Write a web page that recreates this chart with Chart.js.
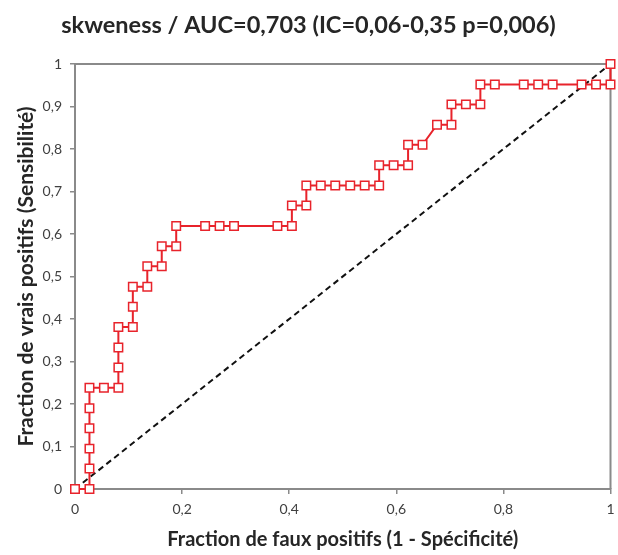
<!DOCTYPE html>
<html>
<head>
<meta charset="utf-8">
<script src="https://cdn.jsdelivr.net/npm/chart.js@4.4.1/dist/chart.umd.min.js"></script>
<style>
  html, body { margin: 0; padding: 0; background: #fff; }
  #wrap { width: 618px; height: 555px; position: relative; }
</style>
</head>
<body>
<div id="wrap"><canvas id="roc"></canvas></div>
<script>
"use strict";

/* ---- Data ---- */
const chartTitle = "skweness / AUC=0,703 (IC=0,06-0,35 p=0,006)";
const xTitle     = "Fraction de faux positifs (1 - Spécificité)";
const yTitle     = "Fraction de vrais positifs (Sensibilité)";

const fprValues = [0, 0.027, 0.027, 0.027, 0.027, 0.027, 0.027, 0.054, 0.081, 0.081, 0.081, 0.081,
  0.108, 0.108, 0.108, 0.135, 0.135, 0.162, 0.162, 0.189, 0.189, 0.243, 0.270, 0.297, 0.378,
  0.405, 0.405, 0.432, 0.432, 0.459, 0.486, 0.514, 0.541, 0.568, 0.568, 0.595, 0.622, 0.622,
  0.649, 0.676, 0.703, 0.703, 0.730, 0.757, 0.757, 0.784, 0.838, 0.865, 0.892, 0.946, 0.973, 1, 1];

const tprValues = [0, 0, 0.048, 0.095, 0.143, 0.190, 0.238, 0.238, 0.238, 0.286, 0.333, 0.381,
  0.381, 0.429, 0.476, 0.476, 0.524, 0.524, 0.571, 0.571, 0.619, 0.619, 0.619, 0.619, 0.619,
  0.619, 0.667, 0.667, 0.714, 0.714, 0.714, 0.714, 0.714, 0.714, 0.762, 0.762, 0.762, 0.810,
  0.810, 0.857, 0.857, 0.905, 0.905, 0.905, 0.952, 0.952, 0.952, 0.952, 0.952, 0.952, 0.952, 0.952, 1];

const refX = [0, 1];
const refY = [0, 1];

const xTickValues = [0, 0.2, 0.4, 0.6, 0.8, 1];
const yTickValues = [0, 0.1, 0.2, 0.3, 0.4, 0.5, 0.6, 0.7, 0.8, 0.9, 1];

/* ---- Styles ---- */
const RED   = "#e8232b";
const AXIS  = "#8a8a8a";
const TEXT  = "#262626";
const TICK  = "#404040";
const FONT  = "Lato, 'Open Sans', sans-serif";

const fmt = v => String(Math.round(v * 10) / 10).replace(".", ",");

/* grey frame on the top and right of the plot area */
const framePlugin = {
  id: "frame",
  beforeDatasetsDraw(chart) {
    const { ctx, chartArea: a } = chart;
    ctx.save();
    ctx.strokeStyle = AXIS;
    ctx.lineWidth = 2;
    ctx.beginPath();
    ctx.moveTo(a.left, a.top);
    ctx.lineTo(a.right, a.top);
    ctx.lineTo(a.right, a.bottom);
    ctx.stroke();
    ctx.restore();
  },
};

const zip = (xs, ys) => xs.map((x, i) => ({ x, y: ys[i] }));

new Chart(document.getElementById("roc"), {
  type: "scatter",
  data: {
    datasets: [
      {
        label: "ref",
        data: zip(refX, refY),
        showLine: true,
        borderColor: "#111",
        borderWidth: 2,
        borderDash: [6, 4],
        pointRadius: 0,
        clip: false,
        order: 2,
      },
      {
        label: "ROC",
        data: zip(fprValues, tprValues),
        showLine: true,
        borderColor: RED,
        borderWidth: 2,
        pointStyle: "rect",
        pointRadius: 6,
        pointBorderWidth: 1.5,
        pointBackgroundColor: "#fff",
        pointBorderColor: RED,
        clip: false,
        order: 1,
      },
    ],
  },
  options: {
    responsive: true,
    maintainAspectRatio: false,
    animation: false,
    layout: { padding: { left: 0, right: 1, top: 0, bottom: 0 } },
    plugins: {
      legend: { display: false },
      tooltip: { enabled: false },
      title: {
        display: true,
        text: chartTitle,
        color: TEXT,
        font: { family: FONT, size: 23.5, weight: "bold" },
        padding: { top: 11, bottom: 24.8 },
      },
    },
    scales: {
      x: {
        type: "linear",
        min: 0, max: 1,
        afterBuildTicks: s => { s.ticks = xTickValues.map(v => ({ value: v })); },
        afterFit: s => { s.height = 66; s.paddingLeft = 0; s.paddingRight = 0; },
        ticks: { color: TICK, font: { family: FONT, size: 14 }, padding: 7, callback: fmt, maxRotation: 0 },
        grid: { drawOnChartArea: false, drawTicks: true, tickLength: 5, color: AXIS, lineWidth: 1.5 },
        border: { color: AXIS, width: 2 },
        title: {
          display: true,
          text: xTitle,
          color: TEXT,
          font: { family: FONT, size: 20, weight: "bold" },
          padding: { top: 0, bottom: 3 },
        },
      },
      y: {
        type: "linear",
        min: 0, max: 1,
        afterBuildTicks: s => { s.ticks = yTickValues.map(v => ({ value: v })); },
        afterFit: s => { s.width = 75; s.paddingTop = 0; s.paddingBottom = 0; },
        ticks: { color: TICK, font: { family: FONT, size: 14 }, padding: 8, callback: fmt },
        grid: { drawOnChartArea: false, drawTicks: true, tickLength: 5, color: AXIS, lineWidth: 1.5 },
        border: { color: AXIS, width: 2 },
        title: {
          display: true,
          text: yTitle,
          color: TEXT,
          font: { family: FONT, size: 21, weight: "bold" },
          padding: { top: 14, bottom: 0 },
        },
      },
    },
  },
  plugins: [framePlugin],
});
</script>
</body>
</html>
